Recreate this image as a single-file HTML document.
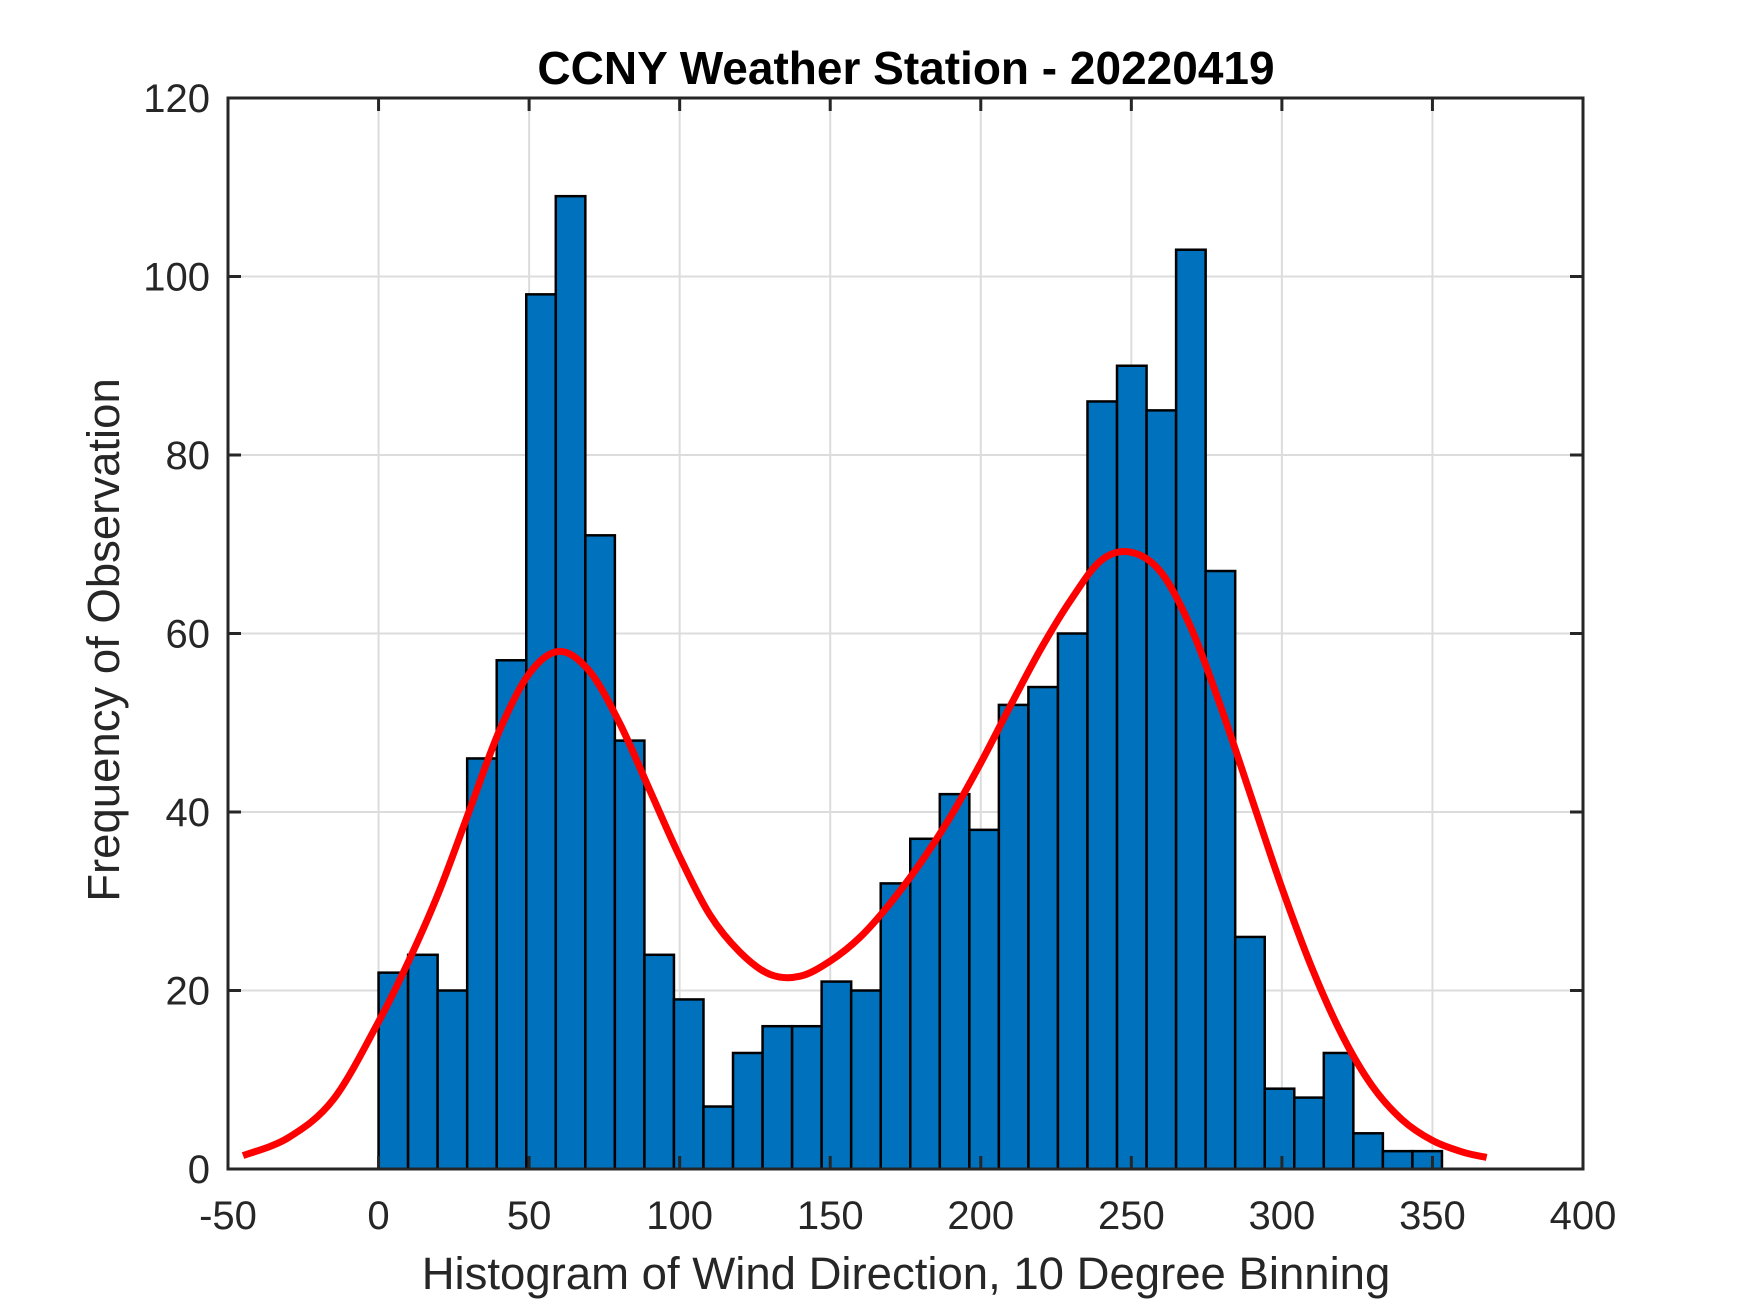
<!DOCTYPE html>
<html><head><meta charset="utf-8"><style>
html,body{margin:0;padding:0;background:#fff;}
svg{display:block;font-family:"Liberation Sans",Arial,sans-serif;}
</style></head><body>
<svg id="chart" width="1750" height="1313" viewBox="0 0 1750 1313" xmlns="http://www.w3.org/2000/svg">
<rect width="1750" height="1313" fill="#fff"/>
<g id="grid"></g>
<g id="bars"></g>
<g id="curve"></g>
<g id="axes"></g>
<text x="906" y="84" text-anchor="middle" font-size="46" font-weight="bold" fill="#000">CCNY Weather Station - 20220419</text>
<text x="906" y="1289" text-anchor="middle" font-size="45.5" fill="#262626">Histogram of Wind Direction, 10 Degree Binning</text>
<text transform="translate(119,640) rotate(-90)" text-anchor="middle" font-size="45.5" fill="#262626">Frequency of Observation</text>
</svg>
<script>
const binStart = 0;
const binWidth = 9.81;
const counts = [22,24,20,46,57,98,109,71,48,24,19,7,13,16,16,21,20,32,37,42,38,52,54,60,86,90,85,103,67,26,9,8,13,4,2,2];
const curveX = [-45,-30,-15,0,10,20,30,40,50,60,70,80,90,100,110,120,130,140,150,160,170,180,190,200,210,220,230,240,250,260,270,280,290,300,310,320,330,340,350,360,368];
const curveY = [1.5,3.5,7.8,16.5,23.3,31,40,49,55.5,58,55.8,50,42.5,35,28.5,24.3,21.8,21.6,23.3,26,29.8,34.3,39.5,45.5,52,58.3,63.8,68.2,69.1,66.8,60.5,51.5,41.5,31.5,22.5,15,9.3,5.5,3.2,1.9,1.3];
const xTicks = [-50,0,50,100,150,200,250,300,350,400];
const yTicks = [0,20,40,60,80,100,120];

const L=228,R=1583,T=98,B=1169;
const xMin=-50,xMax=400,yMin=0,yMax=120;
const NS="http://www.w3.org/2000/svg";
function sx(v){return L+(v-xMin)/(xMax-xMin)*(R-L);}
function sy(v){return B-(v-yMin)/(yMax-yMin)*(B-T);}
function mk(tag,attrs,parent){const e=document.createElementNS(NS,tag);for(const k in attrs)e.setAttribute(k,attrs[k]);parent.appendChild(e);return e;}

const grid=document.getElementById('grid');
xTicks.forEach(t=>{const l=mk('line',{x1:sx(t),x2:sx(t),y1:T,y2:B,stroke:'#dcdcdc','stroke-width':2},grid);

});
yTicks.forEach(t=>{const l=mk('line',{x1:L,x2:R,y1:sy(t),y2:sy(t),stroke:'#dcdcdc','stroke-width':2},grid);

});

const bars=document.getElementById('bars');
counts.forEach((c,i)=>{const x0=sx(binStart+i*binWidth),x1=sx(binStart+(i+1)*binWidth);
const r=mk('rect',{x:x0,y:sy(c),width:x1-x0,height:sy(0)-sy(c),fill:'#0072BD',stroke:'#000','stroke-width':2.5},bars);

});

const pts=curveX.map((x,i)=>[sx(x),sy(curveY[i])]);
let d='M'+pts[0][0]+','+pts[0][1];
for(let i=0;i<pts.length-1;i++){const p0=pts[Math.max(0,i-1)],p1=pts[i],p2=pts[i+1],p3=pts[Math.min(pts.length-1,i+2)];
const c1=[p1[0]+(p2[0]-p0[0])/6,p1[1]+(p2[1]-p0[1])/6],c2=[p2[0]-(p3[0]-p1[0])/6,p2[1]-(p3[1]-p1[1])/6];
d+=' C'+c1[0]+','+c1[1]+' '+c2[0]+','+c2[1]+' '+p2[0]+','+p2[1];}
const cp=mk('path',{d:d,fill:'none',stroke:'#ff0000','stroke-width':7,'stroke-linejoin':'round'},document.getElementById('curve'));



const axes=document.getElementById('axes');
const box=mk('rect',{x:L,y:T,width:R-L,height:B-T,fill:'none',stroke:'#262626','stroke-width':3},axes);


xTicks.forEach(t=>{mk('line',{x1:sx(t),x2:sx(t),y1:B,y2:B-13,stroke:'#262626','stroke-width':3},axes);
mk('line',{x1:sx(t),x2:sx(t),y1:T,y2:T+13,stroke:'#262626','stroke-width':3},axes);
const tx=mk('text',{x:sx(t),y:1229,'text-anchor':'middle','font-size':40,fill:'#262626'},axes);tx.textContent=t;

});
yTicks.forEach(t=>{mk('line',{x1:L,x2:L+13,y1:sy(t),y2:sy(t),stroke:'#262626','stroke-width':3},axes);
mk('line',{x1:R,x2:R-13,y1:sy(t),y2:sy(t),stroke:'#262626','stroke-width':3},axes);
const tx=mk('text',{x:210,y:sy(t)+14,'text-anchor':'end','font-size':40,fill:'#262626'},axes);tx.textContent=t;

});
</script>
</body></html>
